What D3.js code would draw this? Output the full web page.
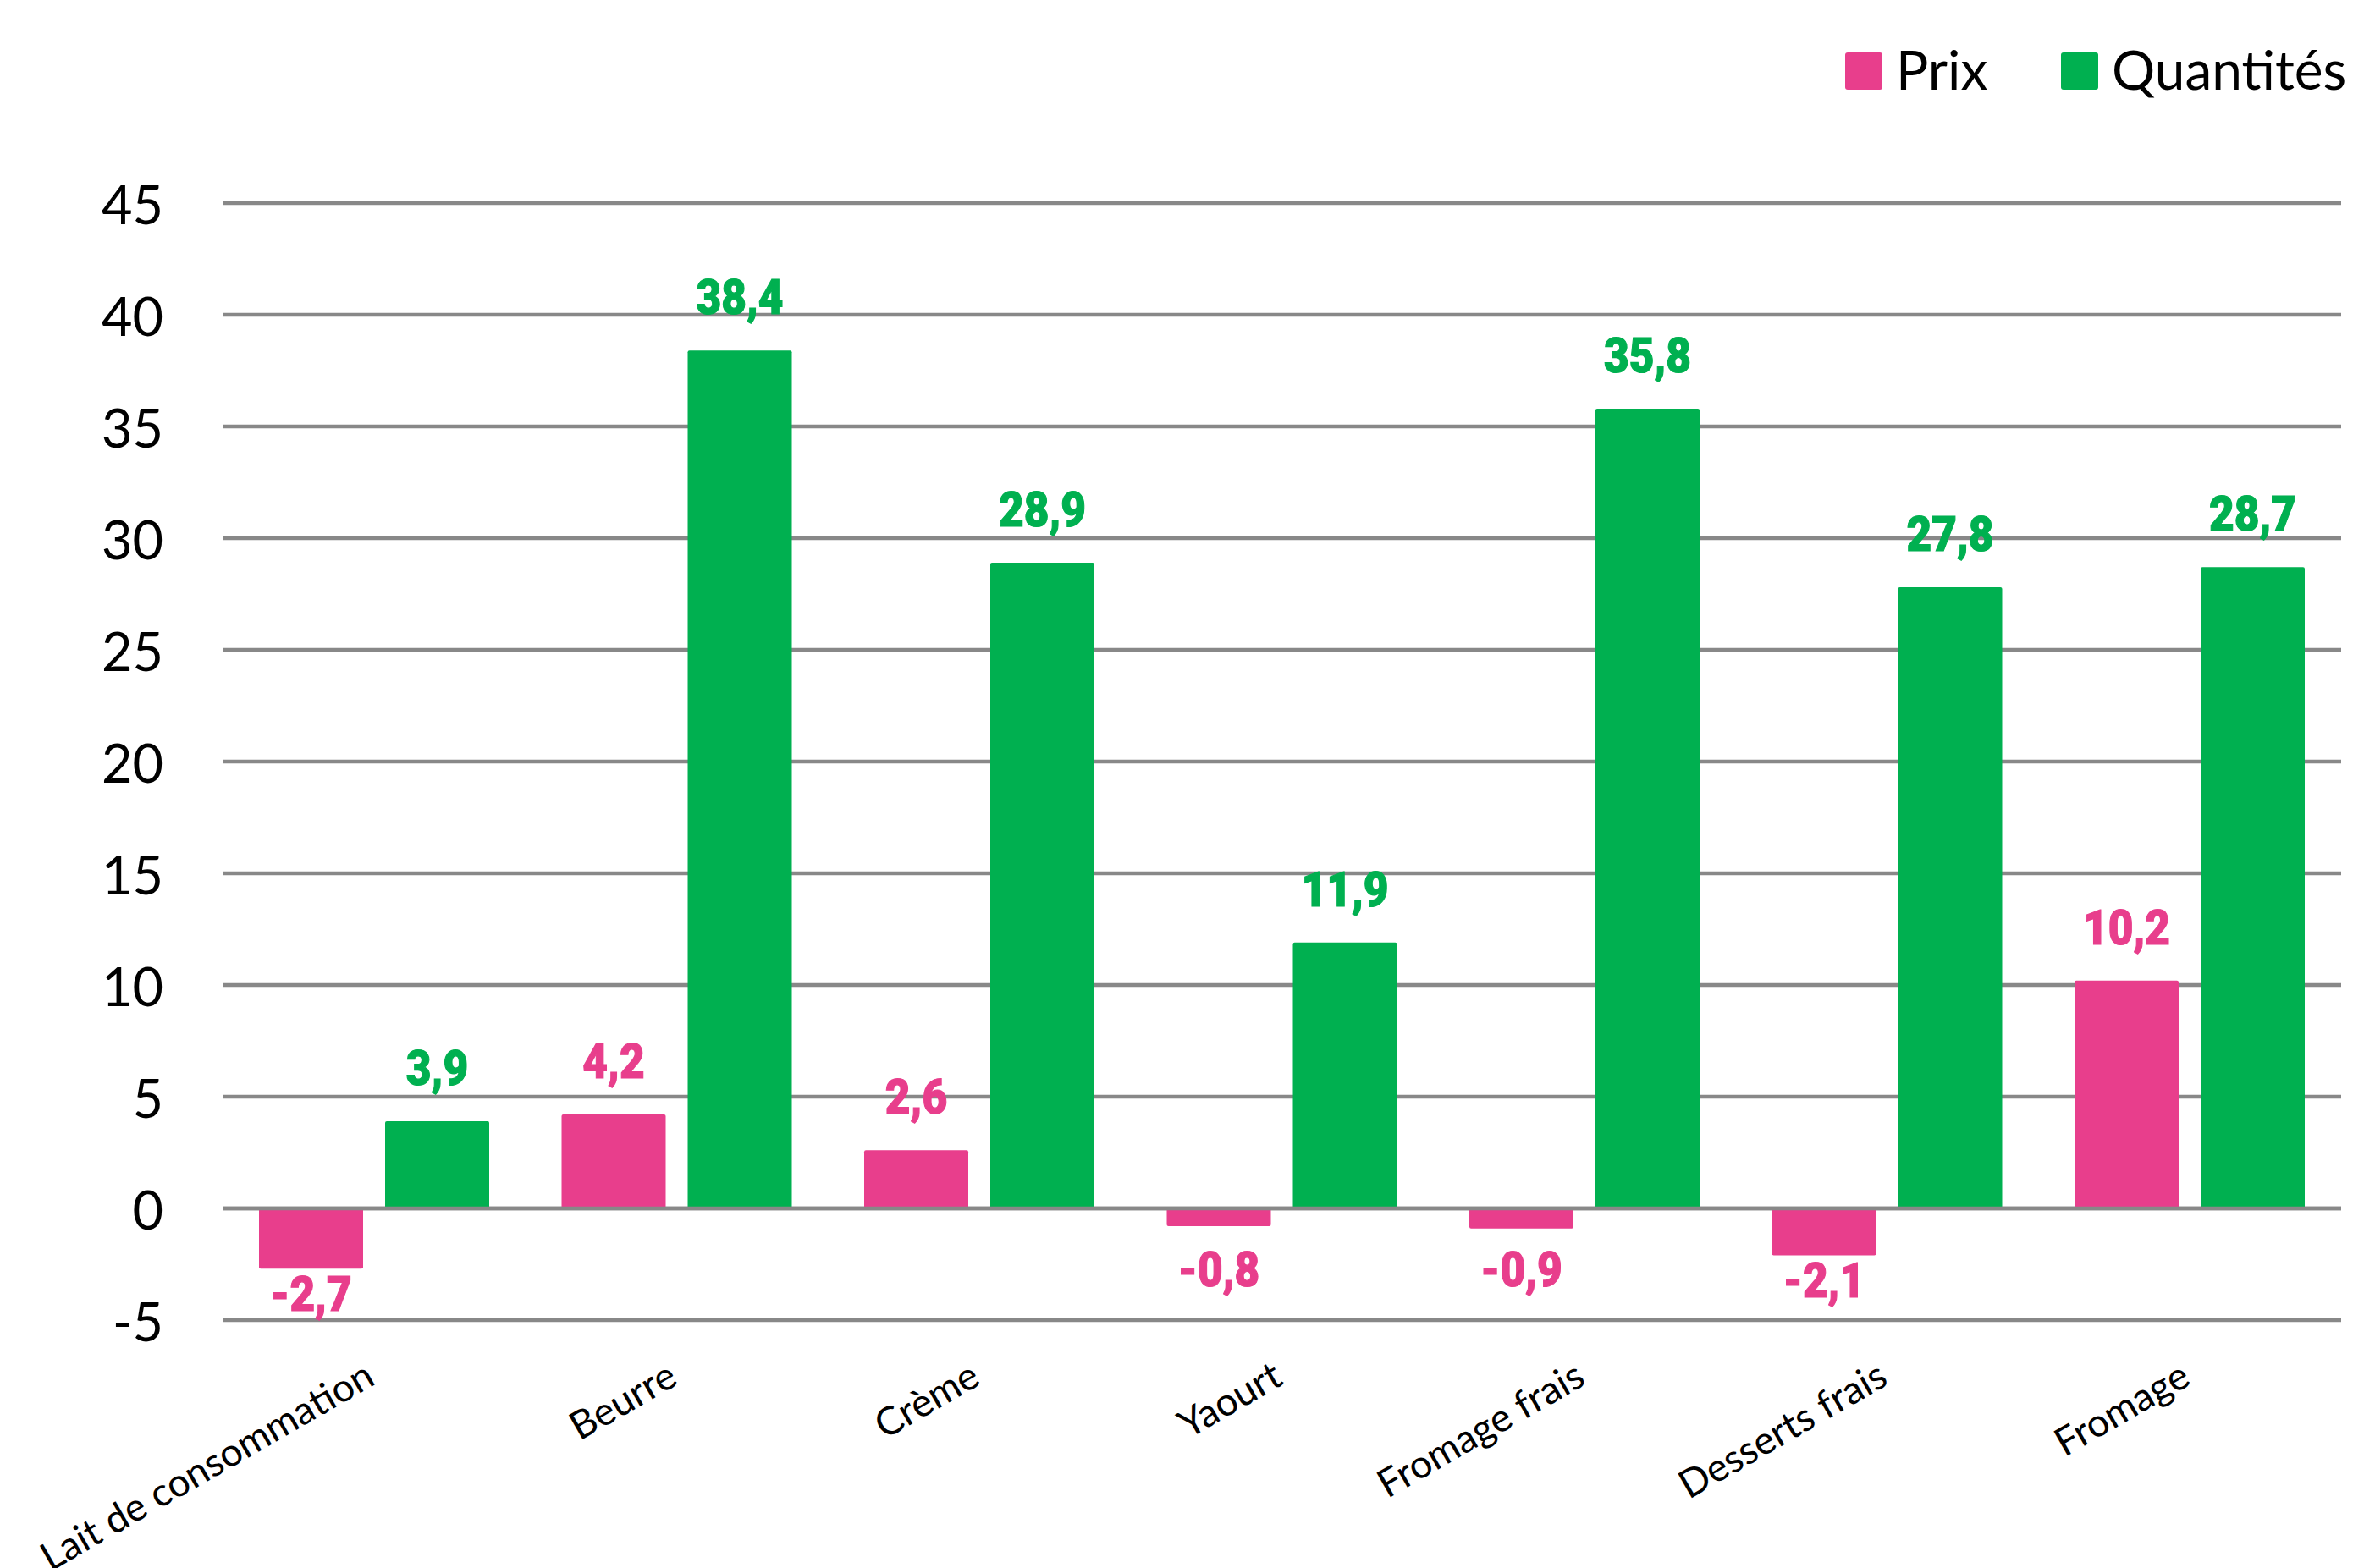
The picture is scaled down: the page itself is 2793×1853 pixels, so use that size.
<!DOCTYPE html>
<html>
<head>
<meta charset="utf-8">
<script src="https://cdn.jsdelivr.net/npm/d3@7"></script>
<style>
  html, body { margin: 0; padding: 0; background: #ffffff; }
  svg { display: block; }
</style>
</head>
<body>
<svg id="chart" width="2793" height="1853"></svg>
<script>
// ---- data ----
const categories = ["Lait de consommation", "Beurre", "Crème", "Yaourt", "Fromage frais", "Desserts frais", "Fromage"];
const seriesNames = ["Prix", "Quantités"];
const prix = [-2.7, 4.2, 2.6, -0.8, -0.9, -2.1, 10.2];
const quantites = [3.9, 38.4, 28.9, 11.9, 35.8, 27.8, 28.7];
const yTicks = [-5, 0, 5, 10, 15, 20, 25, 30, 35, 40, 45];

const colors = { "Prix": "#E83E8C", "Quantités": "#00B050" };
const seriesValues = { "Prix": prix, "Quantités": quantites };

const W = 2793, H = 1853;
const svg = d3.select("#chart");
svg.append("rect").attr("width", W).attr("height", H).attr("fill", "#ffffff");

const x0 = d3.scaleBand().domain(categories).range([263.5, 2766]).paddingInner(0).paddingOuter(0);
const x1 = d3.scaleBand().domain(seriesNames).range([42.5, 314.5]).paddingInner(0.1745).paddingOuter(0);
const y = d3.scaleLinear().domain([-5, 45]).range([1560, 240]);

const locale = d3.formatLocale({ decimal: ",", thousands: " ", grouping: [3], currency: ["", " €"], minus: "-" });
const fmt = locale.format(".1f");

const gridColor = "#888888";
const gridW = 4.5;

// gridlines
svg.append("g").selectAll("line").data(yTicks).join("line")
  .attr("x1", 263.5).attr("x2", 2766)
  .attr("y1", d => y(d)).attr("y2", d => y(d))
  .attr("stroke", gridColor).attr("stroke-width", gridW);

// y tick labels
svg.append("g").selectAll("text").data(yTicks).join("text")
  .attr("x", 193).attr("y", d => y(d))
  .attr("text-anchor", "end").attr("dominant-baseline", "central")
  .attr("font-family", "Lato, 'Open Sans', sans-serif").attr("font-size", 63)
  .attr("fill", "#000").text(d => d);

// bars
const rows = [];
categories.forEach((c, i) => {
  seriesNames.forEach(s => rows.push({ cat: c, series: s, value: seriesValues[s][i] }));
});

svg.append("g").selectAll("rect").data(rows).join("rect")
  .attr("x", d => x0(d.cat) + x1(d.series))
  .attr("width", x1.bandwidth())
  .attr("y", d => y(Math.max(0, d.value)))
  .attr("height", d => Math.abs(y(d.value) - y(0)))
  .attr("rx", 2).attr("ry", 2)
  .attr("fill", d => colors[d.series]);

// zero line on top
svg.append("line")
  .attr("x1", 263.5).attr("x2", 2766)
  .attr("y1", y(0)).attr("y2", y(0))
  .attr("stroke", gridColor).attr("stroke-width", gridW);

// data labels (heavy condensed look)
svg.append("g").selectAll("text").data(rows).join("text")
  .attr("transform", d => {
    const lx = x0(d.cat) + x1(d.series) + x1.bandwidth() / 2;
    const ly = d.value >= 0 ? y(d.value) - 43 : Math.max(y(d.value) + 50, y(-3.5));
    return `translate(${lx},${ly}) scale(0.9,1)`;
  })
  .attr("text-anchor", "middle")
  .attr("font-family", "Roboto, 'DejaVu Sans', sans-serif")
  .attr("font-weight", 900).attr("font-size", 57)
  .attr("stroke", d => colors[d.series]).attr("stroke-width", 1.2)
  .attr("fill", d => colors[d.series])
  .text(d => fmt(d.value));

// x labels (rotated)
svg.append("g").selectAll("text").data(categories).join("text")
  .attr("transform", d => `translate(${x0(d) + x0.bandwidth() / 2 + 3},1635) rotate(-30)`)
  .attr("text-anchor", "end")
  .attr("font-family", "Lato, 'Open Sans', sans-serif").attr("font-size", 46)
  .attr("fill", "#000").text(d => d);

// legend
const legend = svg.append("g");
const legendItems = [
  { name: "Prix", x: 2180 },
  { name: "Quantités", x: 2435 }
];
legend.selectAll("rect").data(legendItems).join("rect")
  .attr("x", d => d.x).attr("y", 62).attr("width", 44).attr("height", 44)
  .attr("rx", 3).attr("fill", d => colors[d.name]);
legend.selectAll("text").data(legendItems).join("text")
  .attr("x", d => d.x + 60).attr("y", 81)
  .attr("dominant-baseline", "central")
  .attr("font-family", "Lato, 'Open Sans', sans-serif").attr("font-size", 64)
  .attr("fill", "#000").text(d => d.name);
</script>
</body>
</html>
